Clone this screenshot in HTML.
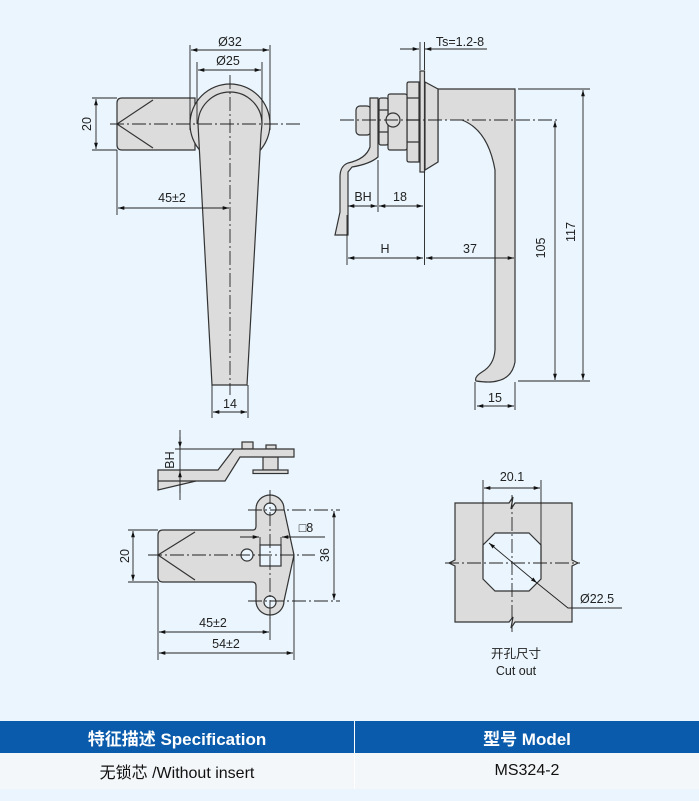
<!DOCTYPE html>
<html><head><meta charset="utf-8"><style>
html,body{margin:0;padding:0;background:#eaf5fd;}
body{width:699px;height:801px;overflow:hidden;position:relative;font-family:"Liberation Sans","Noto Sans CJK SC",sans-serif;}
svg{position:absolute;left:0;top:0}
text{font-family:"Liberation Sans","Noto Sans CJK SC",sans-serif;font-size:12.5px;fill:#222;}
.tb{position:absolute;left:0;width:699px;display:flex;}
.tb div{display:flex;align-items:center;justify-content:center;}
</style></head><body>
<svg width="699" height="801" viewBox="0 0 699 801">
<defs>
<marker id="a" viewBox="0 0 10 10" refX="10" refY="5" markerWidth="7" markerHeight="7" orient="auto-start-reverse"><path d="M0,2 L10,5 L0,8 z" fill="#111"/></marker>
</defs>
<g stroke="#333" stroke-width="1.2" fill="#dcdcdc">
<!-- front view -->
<path d="M122,98 H195 V150 H122 Q117,150 117,145 V103 Q117,98 122,98 Z"/>
<path d="M117,124 L153,100 M117,124 L153,148" fill="none"/>
<circle cx="230" cy="124" r="40"/>
<path d="M198,124 A32,32 0 0 1 262,124 L261,134 L247,385 L212,385 Z"/>
<!-- side view -->
<path d="M438,89 H515 V362 Q512,378 497,381 H476 Q474,377 482,372 Q493,365 495,350 V170 Q488,130 462,120 L438,120 Z" stroke="none"/>
<path d="M438,89 H515 V362 Q512,378 497,381 Q490,383 476,381 Q474,377 482,372 Q494,365 495,350 V170 Q488,130 462,120" fill="none"/>
<path d="M438,89 V162" fill="none"/>
<path d="M425,82 L438,89 V162 L425,170 Z"/>
<rect x="420" y="71" width="4.5" height="101"/>
<path d="M407,84 Q407,82 409,82 H419 V162 H409 Q407,162 407,160 Z"/>
<path d="M407,98 H419 M407,120 H419 M407,142 H419" fill="none"/>
<rect x="388" y="94" width="19" height="56" rx="2"/>
<rect x="379" y="98" width="9" height="47" rx="2"/>
<path d="M379,110 H388 M379,132 H388" fill="none"/>
<rect x="356" y="106" width="15" height="29" rx="4"/>
<path d="M370,98 H378 V157 Q370,164 352,167 L348,172 V235 L335,235 L340,212 V177 Q340,166 348,163 Q366,159 370,147 Z"/>
<circle cx="393" cy="120" r="7"/>
<!-- bottom-left side view -->
<rect x="242" y="442" width="11" height="7"/>
<rect x="266" y="445" width="10" height="4"/>
<rect x="263" y="457" width="15" height="13"/>
<rect x="253" y="470" width="35" height="3.5"/>
<path d="M158,470 L218,470 L234,449 L294,449 L294,457 L240,457 L225,481 L196,481 L158,490 Z"/>
<path d="M158,481 H196" fill="none"/>
<!-- plan view -->
<path d="M163,530 H253 Q256,530 256,526 V509 A14,14 0 0 1 284,509 L294,555 L284,601 A14,14 0 0 1 256,601 V586 Q256,582 252,582 H163 Q158,582 158,577 V535 Q158,530 163,530 Z"/>
<path d="M158,555 L195,532 M158,555 L195,580" fill="none"/>
<circle cx="270" cy="509" r="6" fill="#eaf5fd"/>
<circle cx="270" cy="602" r="6" fill="#eaf5fd"/>
<circle cx="247" cy="555" r="6" fill="#eaf5fd"/>
<rect x="260" y="545" width="21" height="21" fill="#eaf5fd"/>
<!-- cutout -->
<path d="M455,503 H509 L513,497 L511,509 L515,503 H572 V560 L578,563 L572,566 V622 H515 L511,628 L513,617 L509,622 H455 V566 L449,563 L455,560 Z"/>
<path d="M495,533 H529 L541,545 V579 L529,591 H495 L483,579 V545 Z" fill="#eaf5fd"/>
</g>
<g stroke="#222" stroke-width="0.9" fill="none">
<g stroke-dasharray="14,3,2,3">
<path d="M110,124 H300 M230,75 V395"/>
<path d="M340,120 H560"/>
<path d="M148,555 H315 M270,490 V620 M248,510 H340 M248,601 H340"/>
<path d="M445,563 H580 M512,495 V632"/>
</g>
<path d="M92,98 H117 M92,150 H117 M117,150 V215 M190,45 V130 M270,45 V130 M197,62 V124 M262,62 V124 M212,385 V418 M248,385 V418"/>
<path d="M96,99 V149" marker-start="url(#a)" marker-end="url(#a)"/>
<path d="M118,208 H229" marker-start="url(#a)" marker-end="url(#a)"/>
<path d="M191,50 H269" marker-start="url(#a)" marker-end="url(#a)"/>
<path d="M198,70 H261" marker-start="url(#a)" marker-end="url(#a)"/>
<path d="M213,412 H247" marker-start="url(#a)" marker-end="url(#a)"/>
<path d="M420,42 V70 M424.5,42 V70 M424.5,172 V265 M378,160 V212 M347,215 V265 M518,89 H590 M518,381 H590 M475,382 V410 M515,382 V410"/>
<path d="M400,49 H419" marker-end="url(#a)"/>
<path d="M487,49 H425" marker-end="url(#a)"/>
<path d="M348,206 H377" marker-start="url(#a)" marker-end="url(#a)"/>
<path d="M379,206 H423" marker-start="url(#a)" marker-end="url(#a)"/>
<path d="M348,258 H423" marker-start="url(#a)" marker-end="url(#a)"/>
<path d="M426,258 H514" marker-start="url(#a)" marker-end="url(#a)"/>
<path d="M555,121 V380" marker-start="url(#a)" marker-end="url(#a)"/>
<path d="M583,90 V380" marker-start="url(#a)" marker-end="url(#a)"/>
<path d="M477,406 H514" marker-start="url(#a)" marker-end="url(#a)"/>
<path d="M175,449 H234 M180,430 V500"/>
<path d="M180,437 V448" marker-end="url(#a)"/>
<path d="M180,493 V471" marker-end="url(#a)"/>
<path d="M128,530 H158 M128,582 H158 M158,582 V660 M294,555 V660 M270,610 V640 M240,537 H259 M282,537 H325 M260,537 V545 M281,537 V545"/>
<path d="M250,537 H259" marker-end="url(#a)"/>
<path d="M291,537 H282" marker-end="url(#a)"/>
<path d="M133,531 V581" marker-start="url(#a)" marker-end="url(#a)"/>
<path d="M334,511 V600" marker-start="url(#a)" marker-end="url(#a)"/>
<path d="M159,632 H269" marker-start="url(#a)" marker-end="url(#a)"/>
<path d="M159,653 H293" marker-start="url(#a)" marker-end="url(#a)"/>
<path d="M483,480 V560 M541,480 V560"/>
<path d="M484,488 H540" marker-start="url(#a)" marker-end="url(#a)"/>
<path d="M489,543 L537,583" marker-start="url(#a)" marker-end="url(#a)"/>
<path d="M537,583 L568,608 H622"/>
</g>
<g text-anchor="middle">
<text x="230" y="46">Ø32</text>
<text x="228" y="65">Ø25</text>
<text x="172" y="202">45±2</text>
<text x="230" y="408">14</text>
<text transform="translate(91,124) rotate(-90)">20</text>
<text x="460" y="46">Ts=1.2-8</text>
<text x="363" y="201">BH</text>
<text x="400" y="201">18</text>
<text x="385" y="253">H</text>
<text x="470" y="253">37</text>
<text transform="translate(545,248) rotate(-90)">105</text>
<text transform="translate(575,232) rotate(-90)">117</text>
<text x="495" y="402">15</text>
<text transform="translate(174,460) rotate(-90)">BH</text>
<text transform="translate(129,556) rotate(-90)">20</text>
<text transform="translate(329,555) rotate(-90)">36</text>
<text x="306" y="532">□8</text>
<text x="213" y="627">45±2</text>
<text x="226" y="648">54±2</text>
<text x="512" y="481">20.1</text>
<text x="597" y="603">Ø22.5</text>
<text x="516" y="658">开孔尺寸</text>
<text x="516" y="675">Cut out</text>
</g>
</svg>
<div class="tb" style="top:721px;height:32px;background:#0a5bab;color:#fff;font-size:17px;font-weight:bold;">
<div style="width:354px;border-right:1px solid #fff;">特征描述 Specification</div>
<div style="flex:1;">型号 Model</div>
</div>
<div class="tb" style="top:753px;height:36px;background:#f4f7f9;color:#111;font-size:16px;">
<div style="width:354px;border-right:1px solid #fff;">无锁芯 /Without insert</div>
<div style="flex:1;">MS324-2</div>
</div>
</body></html>
